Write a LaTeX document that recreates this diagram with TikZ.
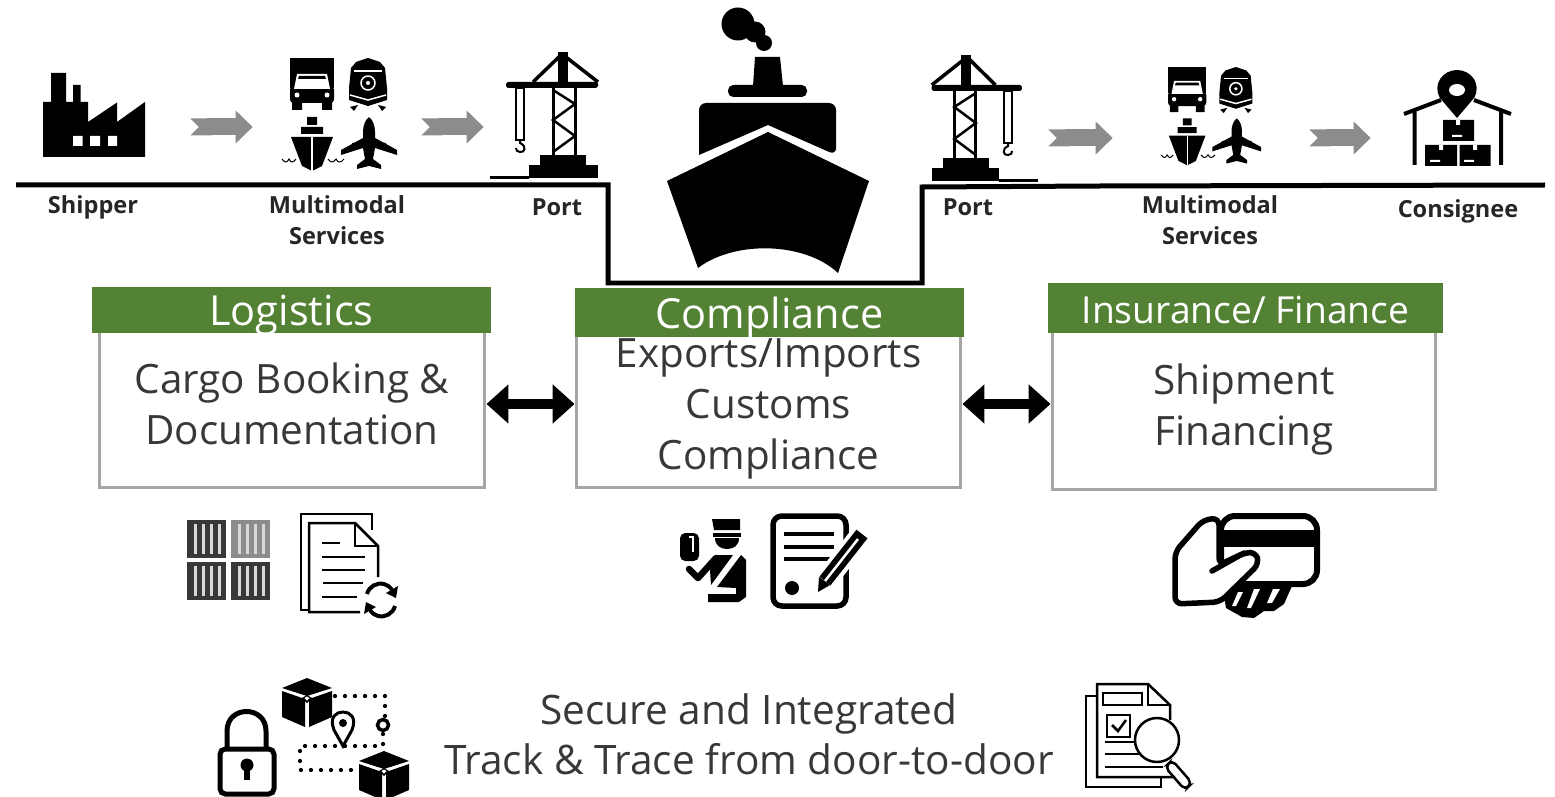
\documentclass[tikz,border=0pt]{standalone}
\usepackage{fontspec}
\setmainfont{Open Sans}
\usetikzlibrary{arrows.meta,positioning}
\definecolor{hdrgreen}{RGB}{84,130,53}
\definecolor{boxgray}{RGB}{166,166,166}
\definecolor{flowgray}{RGB}{140,140,140}
\definecolor{textgray}{RGB}{56,56,56}
\definecolor{tindark}{RGB}{56,56,56}
\definecolor{tinlight}{RGB}{140,140,140}
\tikzset{
  pics/crane/.style={code={
    \draw[line width=.07cm,line join=round] (-29,30) -- (0,2) -- (36,30);
    \fill (-4,0) rectangle (6,32);
    \fill[rounded corners=1pt] (-56,30) rectangle (36,36);
    \draw[line width=.06cm] (-9,36) -- (-9,103) (13,36) -- (13,103);
    \draw[line width=.05cm] (-9,38) -- (13,52) -- (-9,68) -- (13,84) -- (-9,100);
    \fill (-22,103) rectangle (24,113);
    \fill (-33,113) rectangle (36,126);
    \fill (-72,124) rectangle (-33,127);
    \draw[line width=.04cm] (-46,36) rectangle (-38,88);
    \draw[line width=.04cm] (-42,89) -- (-42,91) .. controls (-35,94) and (-37,101) .. (-42,100) .. controls (-45,100) and (-46,98) .. (-46,96);
  }},
  pics/multimodal/.style={code={
    % truck
    \fill (0,0) rectangle (44,30);
    \fill[rounded corners=2pt] (0,28) rectangle (44,45);
    \fill (2,44) rectangle (12,52) (32,44) rectangle (42,52);
    \fill[white] (7,16) -- (37,16) -- (40,31) -- (4,31) -- cycle;
    \fill (9,18) -- (35,18) -- (36,21) -- (8,21) -- cycle;
    \fill[white] (7,37) circle[radius=2.5] (37,37) circle[radius=2.5];
    % train
    \fill (78,0) -- (90,4) -- (95,10) -- (97,30) -- (97,42) -- (78,48) -- (59,42) -- (59,30) -- (61,10) -- (66,4) -- cycle;
    \draw[white,line width=.025cm] (64,13) -- (92,13);
    \draw[white,line width=.03cm] (78,25) circle[radius=7];
    \fill[white] (78,25) circle[radius=2];
    \draw[white,line width=.03cm] (60,37) -- (78,42) -- (96,37);
    \fill (60,49) -- (68,47) -- (64,53) -- cycle (96,49) -- (88,47) -- (92,53) -- cycle;
    % ship
    \fill (17,59) rectangle (27,67) (11,69) rectangle (33,76);
    \fill (1,79) -- (43,79) -- (32,108) -- (22,113) -- (12,108) -- cycle;
    \draw[white,line width=.025cm] (22,79) -- (22,113);
    \draw[line width=.02cm] (-8,101) .. controls (-5,105) and (-3,105) .. (-1,101) .. controls (1,105) and (3,105) .. (6,101);
    \draw[line width=.02cm] (38,101) .. controls (41,105) and (43,105) .. (46,101) .. controls (48,105) and (51,105) .. (54,101);
    % plane
    \fill (79,59) .. controls (83,62) and (85,68) .. (85,74) -- (85,80) -- (107,92) -- (107,97) -- (85,90) -- (83,101) -- (91,107) -- (91,111) -- (79,108) -- (67,111) -- (67,107) -- (75,101) -- (73,90) -- (51,97) -- (51,92) -- (73,80) -- (73,74) .. controls (73,68) and (75,62) .. (79,59) -- cycle;
    \fill (62,85) rectangle (66,91) (92,85) rectangle (96,91);
  }},
  pics/cube/.style={code={
    \fill (25,0) -- (50,10) -- (25,18) -- (0,10) -- cycle;
    \fill (0,13) -- (23,21) -- (23,49) -- (0,39) -- cycle;
    \fill (50,13) -- (27,21) -- (27,49) -- (50,39) -- cycle;
    \fill (25,17) -- (30,20) -- (25,25) -- (20,20) -- cycle;
    \fill[white] (25,18.5) -- (27.5,20) -- (25,22.5) -- (22.5,20) -- cycle;
  }}
}
\begin{document}
\begin{tikzpicture}[
  x=0.02cm,y=-0.02cm,
  iconbox/.style={minimum height=1.6cm,inner sep=0pt},
  placelabel/.style={font=\fontsize{13.4}{17.6}\selectfont\bfseries,align=center,text=black!85,text depth=0pt},
  header/.style={fill=hdrgreen,text=white,inner sep=0pt,text height=.74cm,text depth=.1cm,font=\fontsize{23.6}{26}\selectfont},
  taskbox/.style={draw=boxgray,line width=.06cm,minimum width=7.72cm,minimum height=3.36cm,
                  align=center,text=textgray,inner sep=0pt,text depth=0pt,font=\fontsize{23}{28.9}\selectfont},
  flowarrow/.style={line width=.34cm,draw=flowgray,{Triangle Cap[reversed]}-{Triangle[length=.34cm,width=.64cm]}},
  linkarrow/.style={line width=.2cm,{Triangle[length=.44cm,width=.76cm]}-{Triangle[length=.44cm,width=.76cm]}}
]
  \useasboundingbox (0,0) rectangle (1555,797);
  % ground and dock
  \draw[line width=.1cm,line join=miter] (16,185) -- (608,185) -- (608,283) -- (922,283) -- (922,187) -- (1100,186) -- (1545,185);
  % stations
  \node[iconbox,minimum width=2.08cm] (shipper) at (94,127) {};
  \node[iconbox,minimum width=2.4cm] (multileft) at (340,127) {};
  \node[iconbox,minimum width=2cm] (craneleft) at (552,127) {};
  \node[iconbox,minimum width=1.8cm] (craneright) at (978,138) {};
  \node[iconbox,minimum width=2.2cm] (multiright) at (1212,138) {};
  \node[iconbox,minimum width=2cm] (consignee) at (1457,138) {};
  % factory
  \fill (43,157) -- (43,102) -- (51,102) -- (51,73) -- (66,73) -- (66,102) -- (73,102) -- (73,85) -- (80.5,85) -- (80.5,102) -- (88,102) -- (88,122) -- (117,102.5) -- (117,122) -- (145,102) -- (145,157) -- cycle;
  \fill[white] (73,136) rectangle (82.5,146) (90,136) rectangle (100,146) (108,136) rectangle (117,146);
  \pic at (290,58) {multimodal};
  \pic[scale=.87] at (1168,67) {multimodal};
  \pic at (562,52) {crane};
  \pic[xscale=-.98] at (967,55) {crane};
  % warehouse
  \draw[line width=.08cm] (1404,114) -- (1441,100) (1474,100) -- (1511,114) (1414.5,112) -- (1414.5,165) (1501,112) -- (1501,165);
  \fill (1457,118) -- (1440,98) .. controls (1432,84) and (1443,70) .. (1457,70) .. controls (1471,70) and (1482,84) .. (1474,98) -- cycle;
  \fill[white] (1457,90) circle[x radius=8,y radius=6];
  \fill (1443,120) rectangle (1474,141) (1425,145) rectangle (1457,166) (1459.5,145) rectangle (1490.5,166);
  \fill[white] (1452,135) rectangle (1462,137) (1430,160) rectangle (1440,162) (1464,160) rectangle (1474,162);
  \fill[white] (1456,120) rectangle (1460,125) (1439,145) rectangle (1443,150) (1473,145) rectangle (1477,150);
  % gray flow arrows
  \draw[flowarrow,shorten <=.88cm,shorten >=.54cm] (shipper) -- (multileft);
  \draw[flowarrow,shorten <=.42cm,shorten >=.36cm] (multileft) -- (craneleft);
  \draw[flowarrow,shorten <=.5cm,shorten >=.88cm] (craneright) -- (multiright);
  \draw[flowarrow,shorten <=.84cm,shorten >=.72cm] (multiright) -- (consignee);
  % ship
  \fill (738,24) circle[radius=16.5] (755,32) circle[radius=10.5] (764,43) circle[radius=8];
  \fill (755,57) -- (780,57) -- (783,86) -- (753,86) -- cycle;
  \fill[rounded corners=3pt] (728,85) rectangle (807,97);
  \fill[rounded corners=4pt] (699,155) -- (699,103) -- (836,103) -- (836,155) -- (836,155) [sharp corners] -- (768,125) -- cycle;
  \fill (667,181) -- (768,132) -- (869,181) -- (838,273) .. controls (805,242) and (735,240) .. (698,268) -- cycle;
  % labels
  \node[placelabel] (shipperlabel) at (93,205) {Shipper};
  \node[placelabel] (multileftlabel) at (337,220) {Multimodal\\Services};
  \node[placelabel] (portleft) at (557,207) {Port};
  \node[placelabel] (portright) at (968,207) {Port};
  \node[placelabel] (multirightlabel) at (1210,220) {Multimodal\\Services};
  \node[placelabel] (consigneelabel) at (1458,209) {Consignee};
  % task boxes
  \node[taskbox] (logbox) at (292,404) {Cargo Booking \&\\Documentation};
  \node[taskbox,minimum width=7.7cm] (compbox) at (768.5,404) {Exports/Imports\\Customs\\Compliance};
  \node[taskbox,minimum width=7.68cm,minimum height=3.4cm] (insbox) at (1244,405) {Shipment\\Financing};
  \node[header,minimum width=7.98cm,minimum height=.92cm] (loghead) at (291.5,310) {Logistics};
  \node[header,minimum width=7.78cm,minimum height=.98cm] (comphead) at (769.5,312.5) {Compliance};
  \node[header,minimum width=7.9cm,minimum height=1cm,font=\fontsize{21.2}{24}\selectfont] (inshead) at (1245.5,308) {Insurance/ Finance};
  \draw[linkarrow] (logbox.east) -- (compbox.west);
  \draw[linkarrow] (compbox.east) -- (compbox.east -| insbox.west);
  % containers
  \foreach \cx/\cy/\tint in {187/520/tindark,231/520/tinlight,187/562/tindark,231/562/tindark} {
    \fill[\tint] (\cx,\cy) rectangle ++(39,38);
    \foreach \sx in {7,15,23,31}
      \fill[white!85!black] (\cx+\sx,\cy+4) rectangle ++(3,30);
  }
  % papers with sync
  \draw[line width=.05cm] (309,610) -- (301,610) -- (301,514) -- (372,514) -- (372,530);
  \fill[white] (309,523) rectangle (355,612);
  \draw[line width=.05cm] (360,612) -- (309,612) -- (309,523) -- (355,523) -- (378,546) -- (378,577);
  \draw[line width=.05cm] (355,523) -- (355,546) -- (378,546);
  \draw[line width=.05cm] (322,543) -- (340,543) (322,557) -- (365,557) (322,570) -- (365,570) (323,583) -- (363,583) (322,597) -- (357,597);
  \draw[line width=.08cm] (367,594) arc[start angle=195,end angle=325,radius=14];
  \draw[line width=.08cm] (395,606) arc[start angle=15,end angle=145,radius=14];
  \fill (398,586) -- (396,598) -- (386,593) -- cycle (364,614) -- (366,602) -- (376,607) -- cycle;
  % officer
  \fill[rounded corners=3pt] (680,533) rectangle (699,561);
  \draw[white,line width=.025cm] (689,537) -- (693,537) -- (693,552);
  \fill (712,519) -- (740,519) -- (740,530) -- (714,530) -- cycle;
  \fill (713,533) rectangle (741,537);
  \fill (715,538) -- (739,538) .. controls (739,546) and (733,549) .. (727,549) .. controls (721,549) and (715,546) .. (715,538) -- cycle;
  \fill (741,555) -- (746,560) -- (746,597) -- (739,602) -- (708,602) -- (708,594) -- (736,594) -- (736,588) -- (717,587) -- cycle;
  \draw[line width=.13cm,line join=round,line cap=round] (689,569) -- (698,578) -- (716,558);
  \fill (716,555) -- (733,555) -- (711,585) -- (710,570) -- cycle;
  % certificate
  \draw[line width=.11cm,rounded corners=5pt] (773,516) rectangle (846,606);
  \draw[line width=.07cm] (784,534) -- (834,534) (784,547) -- (834,547) (784,559) -- (832,559);
  \fill (792,588) circle[radius=7];
  \draw[white,line width=.44cm] (820,588) -- (862,534);
  \draw[line width=.28cm] (825,581) -- (862,534);
  \draw[white,line width=.05cm] (825,581) -- (858,539);
  \fill (818,592) -- (819,577) -- (830,585) -- cycle;
  % card and hand
  \fill (1224,596) -- (1238,586) -- (1292,586) -- (1284,604) -- (1274,611) -- (1264,611) -- (1254,618) -- (1242,617) -- (1226,608) -- cycle;
  \fill[white] (1238,592) -- (1243,592) -- (1236,606) -- (1232,606) -- cycle (1254,589) -- (1260,589) -- (1251,608) -- (1247,608) -- cycle (1273,589) -- (1280,589) -- (1272,603) -- (1267,603) -- cycle;
  \draw[line width=.12cm,rounded corners=8pt] (1221,516) rectangle (1317,584);
  \fill (1221,530) rectangle (1317,547);
  \draw[line width=.11cm,fill=white,rounded corners=4pt] (1219,518) -- (1203,520) -- (1175,552) -- (1175,604) -- (1220,602) -- (1259,564) -- (1256,552) -- (1244,553) -- (1219,565) -- cycle;
  \draw[line width=.11cm,line cap=round] (1212,571) -- (1244,553);
  % tracking panel
  \draw[line width=.1cm,rounded corners=3pt] (220,749) rectangle (274,794);
  \draw[line width=.1cm] (227,748) -- (227,731) .. controls (227,705) and (266,705) .. (266,731) -- (266,748);
  \fill (247,765) circle[radius=6.5];
  \fill (244,767) rectangle (250,780);
  \pic at (282,678) {cube};
  \pic at (359,751) {cube};
  \draw[line width=.085cm,dash pattern=on 0pt off .2cm,line cap=round] (335,696) -- (385,696) -- (385,716) (383,734) -- (383,746) -- (300,746) -- (300,770) -- (357,770);
  \draw[line width=.07cm] (383,725) circle[radius=5.5];
  \draw[line width=.06cm,fill=white] (343,746) -- (334,730) .. controls (329,717) and (336,712) .. (343,712) .. controls (350,712) and (357,717) .. (352,730) -- cycle;
  \fill (343,723) circle[radius=4];
  \node[font=\fontsize{23.1}{28.9}\selectfont,align=center,text=textgray,inner sep=0pt,text depth=0pt] (tracktext) at (749,734) {Secure and Integrated\\Track \& Trace from door-to-door};
  % report and magnifier
  \draw[line width=.05cm] (1097,696) -- (1086,696) -- (1086,787) -- (1161,787) -- (1161,777);
  \draw[line width=.05cm] (1170,720) -- (1170,705) -- (1148,684) -- (1097,684) -- (1097,777) -- (1175,777);
  \draw[line width=.05cm] (1148,684) -- (1148,705) -- (1170,705);
  \draw[line width=.05cm] (1103,693) rectangle (1142,705) (1107,715) rectangle (1130,737);
  \draw[line width=.05cm] (1112,725) -- (1118,731) -- (1126,720);
  \draw[line width=.05cm] (1105,742) -- (1135,742) (1105,754) -- (1140,754) (1105,767) -- (1163,767);
  \draw[line width=.05cm,fill=white] (1157,740) circle[radius=22];
  \draw[line width=.05cm,rounded corners=3pt] (1172,760) -- (1192,783) -- (1185,790) -- (1165,767) -- cycle;
\end{tikzpicture}
\end{document}
